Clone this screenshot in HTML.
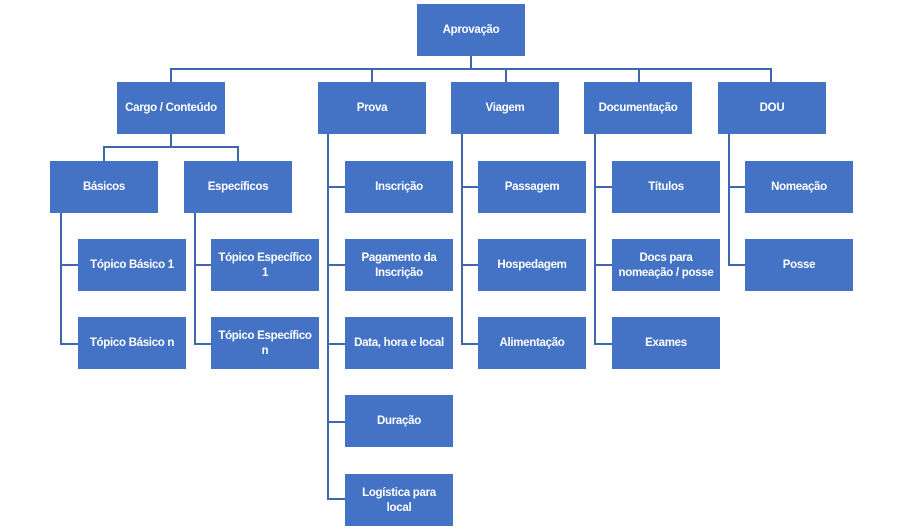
<!DOCTYPE html>
<html><head><meta charset="utf-8"><style>
body{margin:0;width:904px;height:531px;background:#fff;position:relative;overflow:hidden;font-family:"Liberation Sans",sans-serif}
.b{position:absolute;width:108px;height:52px;background:#4472C4;color:#fff;font-weight:bold;font-size:11.5px;letter-spacing:-0.3px;display:flex;align-items:center;justify-content:center;text-align:center;line-height:15px;white-space:nowrap;padding-top:1px;box-sizing:border-box}
.h,.v{position:absolute;background:#3F67AD}
.h{height:2px}.v{width:2px}
</style></head><body>
<div class="v" style="left:470px;top:56px;height:14px"></div>
<div class="h" style="left:170px;top:68px;width:602px"></div>
<div class="v" style="left:170px;top:68px;height:14px"></div>
<div class="v" style="left:371px;top:68px;height:14px"></div>
<div class="v" style="left:505px;top:68px;height:14px"></div>
<div class="v" style="left:638px;top:68px;height:14px"></div>
<div class="v" style="left:770px;top:68px;height:14px"></div>

<div class="v" style="left:170px;top:134px;height:14px"></div>
<div class="h" style="left:103px;top:146px;width:136px"></div>
<div class="v" style="left:103px;top:146px;height:15px"></div>
<div class="v" style="left:237px;top:146px;height:15px"></div>

<div class="v" style="left:60px;top:213px;height:132px"></div>
<div class="h" style="left:60px;top:264px;width:18px"></div>
<div class="h" style="left:60px;top:343px;width:18px"></div>
<div class="v" style="left:194px;top:213px;height:132px"></div>
<div class="h" style="left:194px;top:264px;width:17px"></div>
<div class="h" style="left:194px;top:343px;width:17px"></div>

<div class="v" style="left:327px;top:134px;height:366px"></div>
<div class="h" style="left:327px;top:186px;width:18px"></div>
<div class="h" style="left:327px;top:264px;width:18px"></div>
<div class="h" style="left:327px;top:343px;width:18px"></div>
<div class="h" style="left:327px;top:421px;width:18px"></div>
<div class="h" style="left:327px;top:498px;width:18px"></div>

<div class="v" style="left:461px;top:134px;height:211px"></div>
<div class="h" style="left:461px;top:186px;width:17px"></div>
<div class="h" style="left:461px;top:264px;width:17px"></div>
<div class="h" style="left:461px;top:343px;width:17px"></div>

<div class="v" style="left:594px;top:134px;height:211px"></div>
<div class="h" style="left:594px;top:186px;width:18px"></div>
<div class="h" style="left:594px;top:264px;width:18px"></div>
<div class="h" style="left:594px;top:343px;width:18px"></div>

<div class="v" style="left:728px;top:134px;height:132px"></div>
<div class="h" style="left:728px;top:186px;width:17px"></div>
<div class="h" style="left:728px;top:264px;width:17px"></div>

<div class="b" style="left:417px;top:4px">Aprovação</div>
<div class="b" style="left:117px;top:82px">Cargo / Conteúdo</div>
<div class="b" style="left:318px;top:82px">Prova</div>
<div class="b" style="left:451px;top:82px">Viagem</div>
<div class="b" style="left:584px;top:82px">Documentação</div>
<div class="b" style="left:718px;top:82px">DOU</div>

<div class="b" style="left:50px;top:161px">Básicos</div>
<div class="b" style="left:184px;top:161px">Específicos</div>
<div class="b" style="left:78px;top:239px">Tópico Básico 1</div>
<div class="b" style="left:78px;top:317px">Tópico Básico n</div>
<div class="b" style="left:211px;top:239px">Tópico Específico<br>1</div>
<div class="b" style="left:211px;top:317px">Tópico Específico<br>n</div>

<div class="b" style="left:345px;top:161px">Inscrição</div>
<div class="b" style="left:345px;top:239px">Pagamento da<br>Inscrição</div>
<div class="b" style="left:345px;top:317px">Data, hora e local</div>
<div class="b" style="left:345px;top:395px">Duração</div>
<div class="b" style="left:345px;top:474px">Logística para<br>local</div>

<div class="b" style="left:478px;top:161px">Passagem</div>
<div class="b" style="left:478px;top:239px">Hospedagem</div>
<div class="b" style="left:478px;top:317px">Alimentação</div>

<div class="b" style="left:612px;top:161px">Títulos</div>
<div class="b" style="left:612px;top:239px">Docs para<br>nomeação / posse</div>
<div class="b" style="left:612px;top:317px">Exames</div>

<div class="b" style="left:745px;top:161px">Nomeação</div>
<div class="b" style="left:745px;top:239px">Posse</div>
</body></html>
